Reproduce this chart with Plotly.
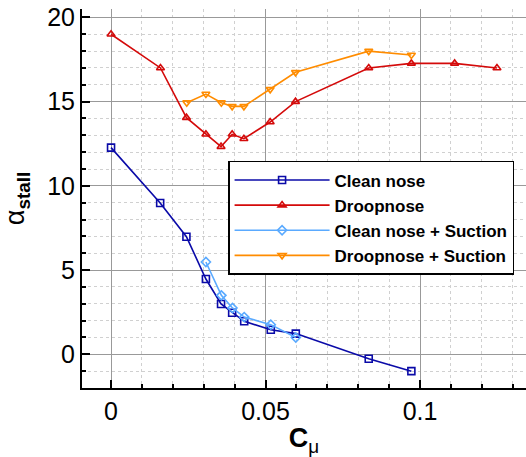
import plotly.graph_objects as go

# ---- data ----
cmu_clean = [0.0, 0.0159, 0.0244, 0.0307, 0.0356, 0.0392, 0.0431, 0.0517, 0.0598, 0.0834, 0.0972]
alpha_clean = [12.27, 8.98, 6.98, 4.47, 2.99, 2.47, 1.96, 1.46, 1.23, -0.26, -1.0]

cmu_droop = [0.0, 0.016, 0.0244, 0.0307, 0.0356, 0.0392, 0.043, 0.0515, 0.0597, 0.0834, 0.0972, 0.1112, 0.1249]
alpha_droop = [19.0, 17.0, 14.05, 13.06, 12.33, 13.06, 12.8, 13.79, 15.0, 17.0, 17.27, 17.27, 17.0]

cmu_clean_suc = [0.0307, 0.0357, 0.0393, 0.0431, 0.0517, 0.0598]
alpha_clean_suc = [5.48, 3.5, 2.75, 2.21, 1.76, 1.0]

cmu_droop_suc = [0.0245, 0.0307, 0.0357, 0.0392, 0.043, 0.0515, 0.0597, 0.0834, 0.0972]
alpha_droop_suc = [14.94, 15.45, 14.94, 14.72, 14.72, 15.73, 16.74, 18.0, 17.77]

names = ["Clean nose", "Droopnose", "Clean nose + Suction", "Droopnose + Suction"]
colors = ["#0a0aa8", "#d40a0a", "#5aaaff", "#ff8c00"]
symbols = ["square-open", "triangle-up-open", "diamond-open", "triangle-down-open"]

series = [
    (cmu_clean, alpha_clean),
    (cmu_droop, alpha_droop),
    (cmu_clean_suc, alpha_clean_suc),
    (cmu_droop_suc, alpha_droop_suc),
]

fig = go.Figure()
for (xs, ys), name, c, s in zip(series, names, colors, symbols):
    fig.add_trace(go.Scatter(
        x=xs, y=ys, name=name, mode="lines+markers",
        line=dict(color=c, width=1.6),
        marker=dict(symbol=s, size=7, color=c, line=dict(color=c, width=1.6)),
    ))

font_family = "Liberation Sans, Arial, sans-serif"

fig.update_layout(
    width=526, height=457,
    margin=dict(l=82, r=0, t=9, b=69),
    plot_bgcolor="white", paper_bgcolor="white",
    font=dict(family=font_family, color="black"),
    legend=dict(
        x=0.329, y=0.599, xanchor="left", yanchor="top",
        bgcolor="white", bordercolor="black", borderwidth=1.5,
        font=dict(family=font_family, size=17, weight="bold", color="black"),
        itemwidth=95,
        tracegroupgap=0,
    ),
    xaxis=dict(
        range=[-0.0094, 0.1343],
        tickvals=[0, 0.05, 0.1], ticktext=["0", "0.05", "0.1"],
        ticks="inside", ticklen=8, tickwidth=1.5, tickcolor="black",
        showline=True, linecolor="black", linewidth=2, mirror=False,
        showgrid=True, gridcolor="#999999", gridwidth=1,
        zeroline=False,
        tickfont=dict(size=25),
        minor=dict(dtick=0.01, tick0=0, ticks="inside", ticklen=4, tickcolor="black",
                   showgrid=True, gridcolor="#d0d0d0", griddash="dot", gridwidth=1),
        title=dict(text="<b>C</b><sub>μ</sub>", font=dict(size=27), standoff=4),
    ),
    yaxis=dict(
        range=[-2, 20.5],
        tickvals=[0, 5, 10, 15, 20],
        ticks="inside", ticklen=8, tickwidth=1.5, tickcolor="black",
        showline=True, linecolor="black", linewidth=2, mirror=False,
        showgrid=True, gridcolor="#999999", gridwidth=1,
        zeroline=False,
        tickfont=dict(size=25),
        minor=dict(dtick=1, tick0=0, ticks="inside", ticklen=4, tickcolor="black",
                   showgrid=True, gridcolor="#d0d0d0", griddash="dot", gridwidth=1),
        title=dict(text="α<sub><b>stall</b></sub>", font=dict(size=27), standoff=18),
    ),
)

fig.write_html("out.html")
